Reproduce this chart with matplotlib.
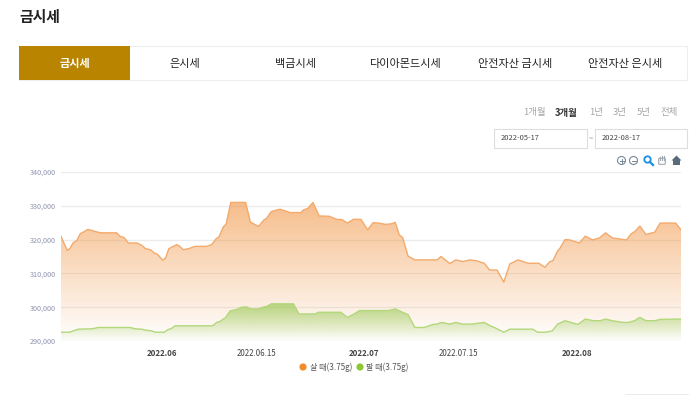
import numpy as np
import matplotlib
matplotlib.use('Agg')
import matplotlib.pyplot as plt
from matplotlib.patches import Rectangle, Circle, Polygon, FancyBboxPatch
from matplotlib.ticker import FuncFormatter

plt.rcParams['font.family'] = ['Noto Sans CJK KR', 'DejaVu Sans']

# 데이터 (5/17 기준 경과일, 단위: 천원)
sell_days = [0, .44, .94, 1.33, 1.83, 2.33, 2.87, 3.3, 3.96, 4.45, 5.04, 5.93, 8.26, 8.75, 9.35, 10, 11.3, 11.97,
             12.56, 13.3, 13.85, 14.3, 15.08, 15.5, 16, 16.67, 17.16, 17.5, 18.15, 18.9, 19.9, 21.6, 22.35, 23,
             23.44, 24.1, 24.5, 25.2, 27.4, 28.1, 29.3, 30.1, 30.5, 31.2, 32.5, 34, 35.6, 36, 36.6, 37.4, 38.3,
             39.8, 40.9, 41.7, 42.5, 43.4, 44.5, 45.5, 46.3, 47.1, 48.2, 49.1, 49.6, 50.2, 50.7, 51.5, 52.5,
             55.8, 56.4, 57.7, 58.6, 59.6, 60.7, 61.7, 62.8, 63.6, 64.7, 65.7, 66.6, 67.8, 69.3, 70.9, 71.8,
             72.5, 73, 73.7, 74, 74.8, 75.5, 76.9, 77.8, 78.9, 79.9, 80.8, 81.8, 83.9, 84.6, 85.1, 85.9, 86.8,
             88.1, 88.9, 91.2, 92]
sell_prices = [321, 318.9, 316.8, 317.4, 319.1, 319.7, 321.8, 322.2, 323, 322.8, 322.4, 322, 322, 321, 320.6, 319,
               319, 318.3, 317.3, 317, 316, 315.7, 313.9, 314.5, 317.3, 318, 318.5, 318.2, 317, 317.3, 318, 318,
               318.5, 320.2, 320.8, 323.8, 324.6, 331, 331, 325.2, 323.9, 325.8, 326.3, 328.3, 329, 328, 328,
               328.8, 329.2, 331, 327, 326.9, 326, 325.9, 324.9, 326, 326, 322.9, 325, 324.9, 324.5, 324.7, 325.1,
               321.4, 320.6, 315.1, 314, 314, 315, 312.9, 314, 313.5, 314, 313.7, 313, 311, 311, 307.4, 312.8, 314,
               313, 313, 311.8, 313.4, 313.8, 316.7, 317.3, 320, 319.9, 319, 321, 319.9, 320.5, 322, 320.5, 319.9,
               321.7, 322.3, 324, 321.5, 322.2, 324.9, 324.9, 322.9]
buy_days = [0, 1.24, 1.83, 2.57, 4.55, 5.54, 10.25, 11, 11.97, 12.6, 13.45, 13.95, 15.3, 15.9, 16.4, 16.9, 22.5, 23.1,
            23.6, 24.1, 24.4, 25.1, 26, 26.8, 27.56, 28.1, 29.3, 30.1, 30.5, 31.2, 34.5, 35.3, 37.7, 38.2, 41.5,
            42.5, 43.4, 44.3, 48.6, 49.6, 50.8, 51.5, 52.5, 53.9, 55.2, 55.8, 56.5, 57.7, 58.6, 59.6, 60.9, 62.8,
            63.6, 64.3, 65.7, 66.6, 70, 70.7, 71.9, 72.9, 73.7, 74.8, 76.7, 77.8, 79, 80, 80.8, 81.8, 83.4, 84.2,
            85.1, 85.9, 86.8, 88.1, 88.9, 92]
buy_prices = [292.6, 292.6, 293, 293.5, 293.6, 294, 294, 293.6, 293.5, 293.2, 293, 292.6, 292.6, 293.4, 293.7, 294.5,
              294.5, 295.5, 295.8, 296.5, 296.9, 298.9, 299.3, 300, 300.1, 299.5, 299.5, 300.1, 300.2, 301, 301, 298,
              298, 298.5, 298.5, 297, 297.9, 299, 299, 299.5, 298.4, 297.8, 294, 294, 294.9, 295, 295.5, 295, 295.5,
              295, 295, 295.5, 294.6, 294, 292.6, 293.5, 293.5, 292.6, 292.6, 293, 295, 296, 294.9, 296.5, 296, 296,
              296.5, 296, 295.5, 295.5, 296, 297, 296, 296, 296.4, 296.5]
x_tick_days = [15, 29, 45, 59, 76.6]
x_tick_labels = ['2022.06', '2022.06.15', '2022.07', '2022.07.15', '2022.08']
x_tick_bold = [True, False, True, False, True]
y_ticks = [290, 300, 310, 320, 330, 340]
tabs = ['금시세', '은시세', '백금시세', '다이아몬드시세', '안전자산 금시세', '안전자산 은시세']
ranges = ['1개월', '3개월', '1년', '3년', '5년', '전체']

W, H = 699, 395
fig = plt.figure(figsize=(W / 100, H / 100), dpi=100)

# 상단 UI는 픽셀 좌표로 그림
ui = fig.add_axes([0, 0, 1, 1])
ui.set_xlim(0, W)
ui.set_ylim(H, 0)
ui.axis('off')

ui.text(19, 17, '금시세', fontsize=10.7, fontweight='bold', color='#222222', va='center', ha='left')

ui.add_patch(Rectangle((19, 45.5), 668, 34.5, fc='white', ec='#eeeeee', lw=0.8))
ui.add_patch(Rectangle((19, 46), 111, 34, fc='#b98500', ec='none'))
tab_x = [74.5, 185, 295, 405, 515, 625]
for i, t in enumerate(tabs):
    ui.text(tab_x[i], 63.5, t, fontsize=8, ha='center', va='center',
            color='white' if i == 0 else '#222222', fontweight='bold' if i == 0 else 'medium')

range_x = [534, 566.5, 596, 620, 644, 669.5]
for i, t in enumerate(ranges):
    ui.text(range_x[i], 113, t, fontsize=6.8, ha='center', va='center',
            color='#333333' if i == 1 else '#a5a5a5', fontweight='bold' if i == 1 else 'normal')

for left, t in [(494, '2022-05-17'), (594.5, '2022-08-17')]:
    ui.add_patch(Rectangle((left, 128.5), 92.5, 19, fc='white', ec='#dddddd', lw=0.8))
    ui.text(left + 7, 137.5, t, fontsize=5.4, color='#444444', va='center')
ui.text(590.5, 139, '~', fontsize=5.5, color='#777777', ha='center', va='center')

# 툴바 아이콘
icon_gray = '#7a8a99'
for cx, sign in [(621.5, '+'), (633.5, '-')]:
    ui.add_patch(Circle((cx, 160.5), 4, fc='none', ec=icon_gray, lw=0.8))
    ui.plot([cx - 2, cx + 2], [160.5, 160.5], color=icon_gray, lw=0.7)
    if sign == '+':
        ui.plot([cx, cx], [158.5, 162.5], color=icon_gray, lw=0.7)
ui.add_patch(Circle((647.5, 159.5), 3.2, fc='none', ec='#1a8fe3', lw=1.3))
ui.plot([650, 653], [162, 165], color='#1a8fe3', lw=1.6)
ui.add_patch(FancyBboxPatch((659.5, 159), 5, 4.5, boxstyle='round,pad=0.8', fc='white', ec='#a0a8b0', lw=0.8))
for hx, hy in [(660, 156.5), (662, 155.5), (664, 156)]:
    ui.plot([hx, hx], [hy, 159.5], color='#a0a8b0', lw=0.8)
ui.add_patch(Polygon([(671.5, 160.5), (676.5, 155.5), (681.5, 160.5), (680, 160.5), (680, 165), (673, 165), (673, 160.5)],
                     fc='#5a6b7b', ec='none'))

# 차트 영역
ax = fig.add_axes([61 / W, 1 - 341 / H, 620 / W, 169 / H])
ax.set_xlim(0, 92)
ax.set_ylim(290, 340)
ax.patch.set_alpha(0)
for s in ax.spines.values():
    s.set_visible(False)
ax.set_yticks(y_ticks)
ax.yaxis.set_major_formatter(FuncFormatter(lambda v, p: f'{int(v * 1000):,}'))
ax.tick_params(axis='y', length=0, labelsize=5.2, labelcolor='#8f93ae', pad=3.8)
ax.grid(axis='y', color='#ececec', lw=1.0)
ax.set_axisbelow(True)
ax.set_xticks(x_tick_days)
ax.set_xticklabels(x_tick_labels, fontsize=5.7, color='#444444')
ax.tick_params(axis='x', length=0, pad=5.5)
for lab, bold in zip(ax.get_xticklabels(), x_tick_bold):
    lab.set_fontweight('bold' if bold else 'normal')


def area(days, prices, rgb, line_color, top_alpha):
    # 위에서 아래로 옅어지는 그라데이션 영역
    top = max(prices)
    grad = np.zeros((256, 2, 4))
    grad[:, :, :3] = rgb
    grad[:, :, 3] = np.linspace(top_alpha, 0.0, 256)[:, None]
    poly = ax.fill_between(days, prices, 290, color='none', lw=0)
    im = ax.imshow(grad, extent=[0, 92, 290, top], origin='upper', aspect='auto', zorder=2)
    im.set_clip_path(poly.get_paths()[0], transform=ax.transData)
    ax.plot(days, prices, color=line_color, lw=1.0, zorder=3, solid_joinstyle='round')


area(sell_days, sell_prices, (0.95, 0.62, 0.33), '#f4aa6c', 0.68)
area(buy_days, buy_prices, (0.62, 0.80, 0.36), '#b3d87c', 0.75)
ax.set_xlim(0, 92)
ax.set_ylim(290, 340)

# 범례
ui.add_patch(Circle((303, 367), 3.6, fc='#f28c28', ec='none'))
ui.text(309.5, 367, '살 때(3.75g)', fontsize=5.8, color='#555555', va='center')
ui.add_patch(Circle((360, 367), 3.6, fc='#8cc832', ec='none'))
ui.text(366.5, 367, '팔 때(3.75g)', fontsize=5.8, color='#555555', va='center')

ui.add_patch(Rectangle((625, 393.5), 63, 3, fc='#f2f2f2', ec='#e6e6e6', lw=0.5))

fig.savefig('out.png', dpi=100)
